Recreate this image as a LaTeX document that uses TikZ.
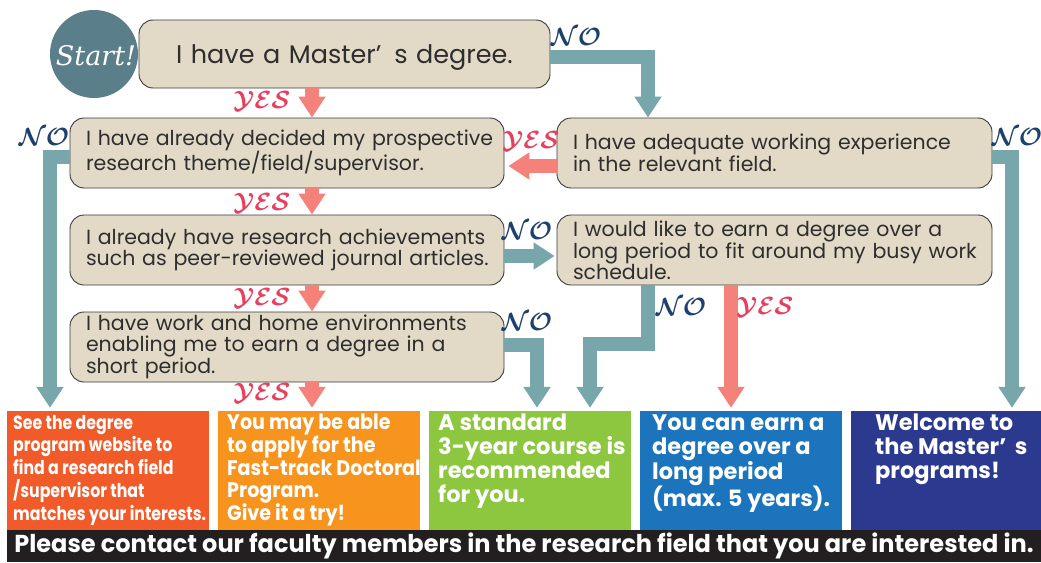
\documentclass[tikz,border=0pt]{standalone}
\usepackage{fontspec}
\setmainfont{Poppins}
\newfontfamily\startfont{DejaVu Serif}
\newfontfamily\popa[FakeStretch=0.83]{Poppins}
\newfontfamily\popb[FakeStretch=0.91]{Poppins}
\newfontfamily\popbar[FakeStretch=0.98]{Poppins}
\usetikzlibrary{arrows.meta,calc}
\definecolor{beige}{HTML}{E2DAC7}
\definecolor{boxline}{HTML}{3A3A3A}
\definecolor{txtgray}{HTML}{2E2E2E}
\definecolor{tealc}{HTML}{77A6AB}
\definecolor{salmon}{HTML}{F4827A}
\definecolor{startc}{HTML}{5A7F8A}
\definecolor{yesc}{HTML}{E5405E}
\definecolor{noc}{HTML}{1C416E}
\definecolor{c1}{HTML}{F15A29}
\definecolor{c2}{HTML}{F7941D}
\definecolor{c3}{HTML}{8DC63F}
\definecolor{c4}{HTML}{1C75BC}
\definecolor{c5}{HTML}{2B3A8F}
\definecolor{barc}{HTML}{231F20}
\newcommand\qline[1]{\mbox{#1}}
\begin{document}
\begin{tikzpicture}[x=1pt,y=-1pt,
  q/.style={draw=boxline, fill=beige, rounded corners=14pt, line width=0.9pt,
    align=left, text=txtgray, font=\fontsize{20.5}{21}\selectfont,
    inner xsep=16pt, inner ysep=0pt, minimum height=70pt, minimum width=435pt, text width=403pt},
  res/.style={inner sep=0pt, minimum height=119pt},
  restext/.style={anchor=north west, inner sep=0pt, align=left, text=white},
  tealarr/.style={draw=tealc, line width=14pt, line join=miter, -{Triangle[width=26pt,length=21pt]}},
  salarr/.style={draw=salmon, line width=14pt, line join=miter, -{Triangle[width=26pt,length=21pt]}},
  yes/.style={text=yesc, inner sep=0pt, font=\boldmath\fontsize{25}{25}\selectfont},
  no/.style={text=noc, inner sep=0pt, font=\boldmath\fontsize{25}{25}\selectfont}]
\useasboundingbox (0,0) rectangle (1041,562);
\fill[white] (0,0) rectangle (1041,562);

% column coordinates
\coordinate (cY) at (312,0);
\coordinate (cL) at (50,0);
\coordinate (cR) at (1012,0);
\coordinate (cT) at (648,0);
\coordinate (cG1) at (537,0);
\coordinate (cG2) at (590,0);
\coordinate (cS) at (731,0);
\coordinate (kink) at (0,344);

% start
\node[circle, fill=startc, minimum size=88pt, inner sep=0pt] (st) at (94,54) {};
\node[text=white, inner sep=0pt, font=\startfont\itshape\fontsize{27}{27}\selectfont] (stt) at (96,56) {Start!};

% question boxes
\node[q, minimum width=411pt, text width=379pt, minimum height=68pt, align=center,
  font=\fontsize{25.5}{26}\selectfont] (b1) at (344.5,54) {\raisebox{-9pt}[0pt][0pt]{I have a Master’\ \,s degree.}};
\node[q, minimum width=434pt, text width=402pt] (b2) at (287,153)
  {\qline{I have already decided my prospective}\\\qline{research theme/field/supervisor.}};
\node[q] (b3) at (774.5,153)
  {\qline{I have adequate working experience}\\\qline{in the relevant field.}};
\node[q, minimum width=434pt, text width=402pt] (b4) at (287,250)
  {\qline{I already have research achievements}\\\qline{such as peer-reviewed journal articles.}};
\node[q] (b5) at (774.5,250)
  {\qline{I would like to earn a degree over a}\\\qline{long period to fit around my busy work}\\\qline{schedule.}};
\node[q, minimum width=434pt, text width=402pt] (b6) at (287,347)
  {\qline{I have work and home environments}\\\qline{enabling me to earn a degree in a}\\\qline{short period.}};

% result boxes
\node[res, fill=c1, minimum width=202pt] (o1) at (108,470.5) {};
\node[res, fill=c2, minimum width=202pt] (o2) at (319,470.5) {};
\node[res, fill=c3, minimum width=202pt] (o3) at (530,470.5) {};
\node[res, fill=c4, minimum width=202pt] (o4) at (741,470.5) {};
\node[res, fill=c5, minimum width=190pt] (o5) at (946,470.5) {};

\node[restext, font=\popa\bfseries\fontsize{19}{22.7}\selectfont] (t1) at (13,415)
  {See the degree\\program website to\\find a research field\\/supervisor that\\matches your interests.};
\node[restext, font=\popb\bfseries\fontsize{21}{22.7}\selectfont] (t2) at (227,414)
  {You may be able\\to apply for the\\Fast-track Doctoral\\Program.\\Give it a try!};
\node[restext, font=\bfseries\fontsize{22.5}{24}\selectfont] (t3) at (438,414)
  {A standard\\3-year course is\\recommended\\for you.};
\node[restext, font=\bfseries\fontsize{22.5}{24}\selectfont] (t4) at (652,414)
  {You can earn a\\degree over a\\long period\\(max. 5 years).};
\node[restext, font=\bfseries\fontsize{22.5}{24}\selectfont] (t5) at (875,414)
  {Welcome to\\the Master’\ \,s\\programs!};

% bottom bar
\node[fill=barc, minimum width=1034pt, minimum height=32pt, inner sep=0pt, text=white,
  font=\popbar\bfseries\fontsize{24.5}{24.5}\selectfont] (bar) at (524,546)
  {Please contact our faculty members in the research field that you are interested in.};

% connectors
\draw[tealarr] ($(b1.east)+(0,3)$) -| (cT |- b3.north);
\draw[salarr] (cY |- b1.south) -- (cY |- b2.north);
\draw[salarr] ($(b3.west)+(0,13)$) -- ($(b2.east)+(4,13)$);
\draw[tealarr] ($(b2.west)+(0,4)$) -| ($(cL |- o1.north)+(0,-3)$);
\draw[tealarr] ($(b3.east)+(0,4)$) -| ($(cR |- o5.north)+(0,-3)$);
\draw[salarr] (cY |- b2.south) -- (cY |- b4.north);
\draw[tealarr] ($(b4.east)+(0,6)$) -- ($(b5.west)+(-2,6)$);
\draw[salarr] (cY |- b4.south) -- (cY |- b6.north);
\draw[tealarr] ($(b6.east)+(0,-2)$) -| ($(cG1 |- o3.north)+(0,-3)$);
\draw[salarr] (cY |- b6.south) -- ($(cY |- o2.north)+(0,-3)$);
\draw[tealarr] (cT |- b5.south) -- (cT |- kink) -- (cG2 |- kink) -- ($(cG2 |- o3.north)+(0,-3)$);
\draw[salarr] (cS |- b5.south) -- ($(cS |- o4.north)+(0,-3)$);

% labels
\node[yes] (y1) at (262,101) {$\mathcal{YES}$};
\node[yes] (y2) at (262,203) {$\mathcal{YES}$};
\node[yes] (y3) at (262,298) {$\mathcal{YES}$};
\node[yes] (y4) at (262,393) {$\mathcal{YES}$};
\node[yes] (y5) at (531,141) {$\mathcal{YES}$};
\node[yes] (y6) at (765,307) {$\mathcal{YES}$};
\node[no] (n1) at (576,37) {$\mathcal{NO}$};
\node[no] (n2) at (44,137) {$\mathcal{NO}$};
\node[no] (n3) at (1017,137) {$\mathcal{NO}$};
\node[no] (n4) at (527,231) {$\mathcal{NO}$};
\node[no] (n5) at (527,322) {$\mathcal{NO}$};
\node[no] (n6) at (681,307) {$\mathcal{NO}$};
\end{tikzpicture}
\end{document}
